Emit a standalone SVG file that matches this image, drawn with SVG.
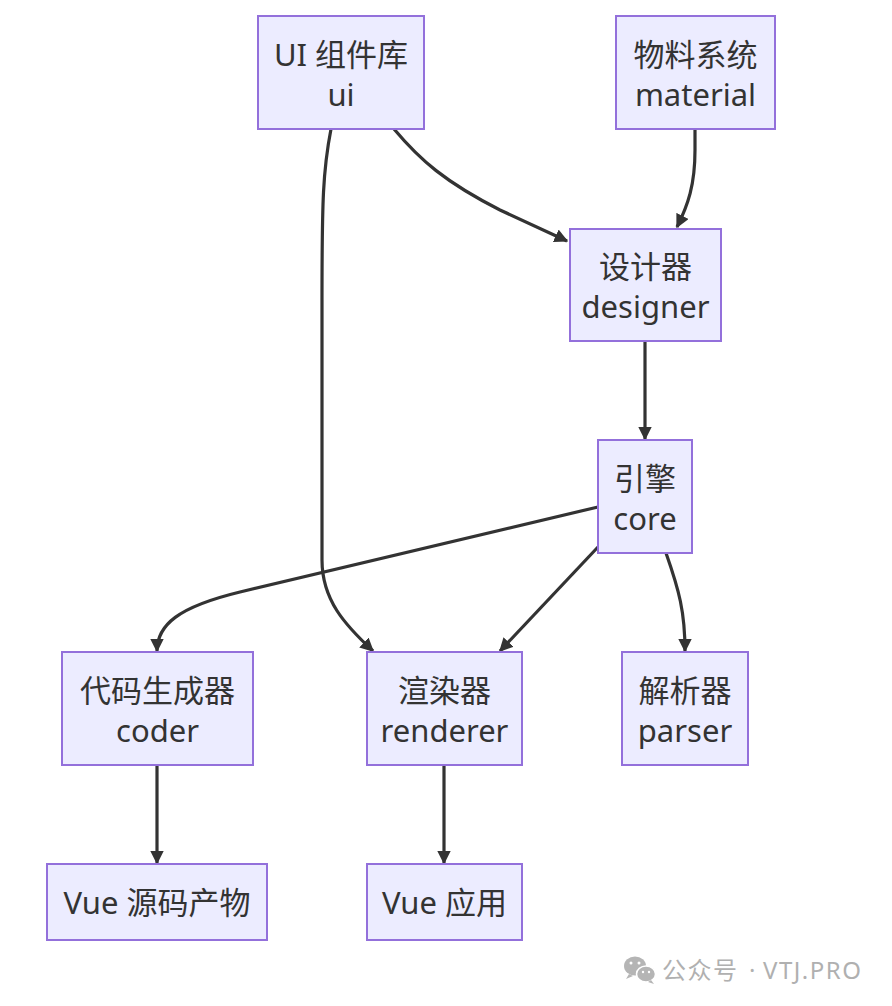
<svg xmlns="http://www.w3.org/2000/svg" width="892" height="1006" viewBox="0 0 892 1006">
<defs>
<style>
.node rect{fill:#ECECFF;stroke:#9370DB;stroke-width:2}
.node text{font-family:"Noto Sans","Noto Sans CJK SC",sans-serif;font-size:31px;fill:#333;text-anchor:middle;dominant-baseline:central}
.edge{fill:none;stroke:#333;stroke-width:3.2}
.wm{font-family:"Noto Sans","Noto Sans CJK SC",sans-serif;font-size:24px;fill:#b0b0b0;letter-spacing:1.5px}
</style>
<marker id="arr" viewBox="0 0 10 10" refX="9" refY="5" markerWidth="4.3" markerHeight="4.3" orient="auto" markerUnits="strokeWidth">
<path d="M0,0 L10,5 L0,10 z" fill="#333"/>
</marker>
</defs>
<rect width="892" height="1006" fill="#fff"/>
<g id="connectors">
<path class="edge" marker-end="url(#arr)" d="M394,129 C420,160 445,182 500,210 L567,241"/>
<path class="edge" marker-end="url(#arr)" d="M695,129 L695,150 C695,185 688,205 677,227"/>
<path class="edge" marker-end="url(#arr)" d="M645,341 L645,439"/>
<path class="edge" marker-end="url(#arr)" d="M598,507 L240,592 C178,607 157,625 157,651"/>
<path class="edge" marker-end="url(#arr)" d="M331,129 C323,170 322,200 322,300 L322,560 C322,600 345,625 373,651"/>
<path class="edge" marker-end="url(#arr)" d="M598,547 L500,651"/>
<path class="edge" marker-end="url(#arr)" d="M666,553 C679,590 685,612 685,651"/>
<path class="edge" marker-end="url(#arr)" d="M157,765 L157,863"/>
<path class="edge" marker-end="url(#arr)" d="M444,765 L444,863"/>
</g>
<g id="ui" class="node"><rect x="258" y="16" width="166" height="113"/><text x="341" y="54">UI 组件库</text><text x="341" y="94">ui</text></g>
<g id="material" class="node"><rect x="616" y="16" width="159" height="113"/><text x="695.5" y="54">物料系统</text><text x="695.5" y="94">material</text></g>
<g id="designer" class="node"><rect x="570" y="229" width="151" height="112"/><text x="645.5" y="266">设计器</text><text x="645.5" y="306">designer</text></g>
<g id="core" class="node"><rect x="598" y="440" width="94" height="113"/><text x="645" y="478">引擎</text><text x="645" y="518">core</text></g>
<g id="coder" class="node"><rect x="62" y="652" width="191" height="113"/><text x="157.5" y="690">代码生成器</text><text x="157.5" y="730">coder</text></g>
<g id="renderer" class="node"><rect x="367" y="652" width="155" height="113"/><text x="444.5" y="690">渲染器</text><text x="444.5" y="730">renderer</text></g>
<g id="parser" class="node"><rect x="622" y="652" width="126" height="113"/><text x="685" y="690">解析器</text><text x="685" y="730">parser</text></g>
<g id="vuesrc" class="node"><rect x="47" y="864" width="220" height="76"/><text x="157" y="902">Vue 源码产物</text></g>
<g id="vueapp" class="node"><rect x="367" y="864" width="155" height="76"/><text x="444.5" y="902">Vue 应用</text></g>
<g id="watermark">
<ellipse cx="635" cy="966" rx="11" ry="9.5" fill="#b5b5b5"/>
<path d="M629,974 l-3,5 l7,-3 z" fill="#b5b5b5"/>
<ellipse cx="646" cy="974" rx="9.5" ry="8" fill="#b5b5b5" stroke="#fff" stroke-width="1.5"/>
<path d="M651,980 l3,4 l-6,-2 z" fill="#b5b5b5"/>
<circle cx="631" cy="963" r="1.5" fill="#fff"/><circle cx="639" cy="963" r="1.5" fill="#fff"/>
<circle cx="643" cy="972" r="1.2" fill="#fff"/><circle cx="649" cy="972" r="1.2" fill="#fff"/>
<text class="wm" x="662" y="979">公众号</text>
<text class="wm" x="749" y="979">·</text>
<text class="wm" x="763" y="979">VTJ.PRO</text>
</g>
</svg>
